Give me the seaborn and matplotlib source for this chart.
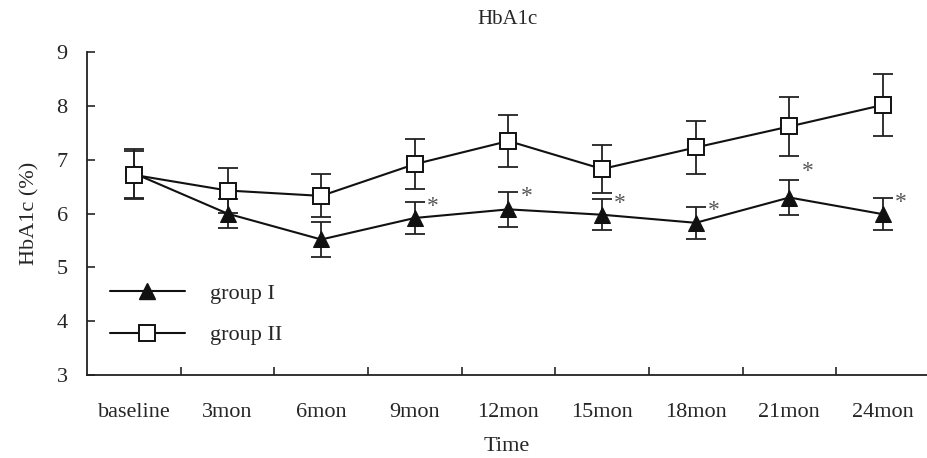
import seaborn as sns
import pandas as pd
import matplotlib.pyplot as plt
from matplotlib.lines import Line2D

# Data
time_points = ["baseline", "3mon", "6mon", "9mon", "12mon", "15mon", "18mon", "21mon", "24mon"]
group1_mean = [6.75, 6.00, 5.52, 5.92, 6.08, 5.98, 5.83, 6.30, 5.99]
group1_sd = [0.45, 0.27, 0.33, 0.30, 0.32, 0.29, 0.30, 0.33, 0.30]
group2_mean = [6.72, 6.43, 6.33, 6.92, 7.35, 6.83, 7.23, 7.62, 8.02]
group2_sd = [0.45, 0.42, 0.40, 0.47, 0.48, 0.45, 0.50, 0.54, 0.57]
star_points = ["9mon", "12mon", "15mon", "18mon", "21mon", "24mon"]

df = pd.DataFrame({
    "Time": time_points * 2,
    "HbA1c": group1_mean + group2_mean,
    "sd": group1_sd + group2_sd,
    "group": ["group I"] * len(time_points) + ["group II"] * len(time_points),
})
df["x"] = df["Time"].map({t: i for i, t in enumerate(time_points)})

sns.set_theme(style="ticks")
plt.rcParams["font.family"] = ["Liberation Serif", "DejaVu Serif"]

fig = plt.figure(figsize=(9.27, 4.58), dpi=100)
ax = fig.add_axes([0.094, 0.181, 0.906, 0.705])

# error bars first, markers on top
for g, sub in df.groupby("group"):
    ax.errorbar(sub["x"], sub["HbA1c"], yerr=sub["sd"], fmt="none", ecolor="#222222",
                elinewidth=1.3, capsize=7.5, capthick=1.3, zorder=2)

sns.lineplot(data=df, x="x", y="HbA1c", hue="group", style="group",
             palette=["#111111", "#111111"], markers={"group I": "^", "group II": "s"},
             dashes=False, linewidth=1.5, markersize=12, ax=ax, zorder=3, legend=False)

# square markers white with black edge
for ln in ax.lines:
    if ln.get_marker() == "s":
        ln.set_markerfacecolor("white")
        ln.set_markeredgecolor("#111111")
        ln.set_markeredgewidth(1.4)
        ln.set_markersize(11)
    elif ln.get_marker() == "^":
        ln.set_markerfacecolor("#111111")
        ln.set_markeredgecolor("#111111")

# significance stars
g1 = df[df["group"] == "group I"].set_index("Time")
for t in star_points:
    i = time_points.index(t)
    y = g1.loc[t, "HbA1c"] + g1.loc[t, "sd"]
    dy = 0.15 if t == "21mon" else -0.08
    ax.text(i + 0.13, y + dy, "*", fontsize=17, color="#555555", ha="left", va="center")

# legend drawn manually like the original
handles = [
    Line2D([], [], color="#111111", lw=1.5, marker="^", markersize=12, markerfacecolor="#111111"),
    Line2D([], [], color="#111111", lw=1.5, marker="s", markersize=11, markerfacecolor="white",
           markeredgecolor="#111111", markeredgewidth=1.4),
]
ax.legend(handles, ["group I", "group II"], loc="lower left", bbox_to_anchor=(0.003, 0.03),
          frameon=False, fontsize=16, handlelength=3.4, handletextpad=1.1, labelspacing=0.95)

ax.set_ylim(3, 9)
ax.set_yticks(range(3, 10))
ax.set_xlim(-0.5, 8.47)
ax.set_xticks([i + 0.5 for i in range(len(time_points) - 1)])
ax.set_xticklabels([])
ax.set_xticks(range(len(time_points)), minor=True)
ax.set_xticklabels(time_points, minor=True)
ax.tick_params(axis="x", which="minor", length=0, pad=20, labelsize=16)
ax.tick_params(axis="x", which="major", direction="in", length=6, width=1.2)
ax.tick_params(axis="y", direction="in", length=6, width=1.2, labelsize=16, pad=14)

ax.set_title("HbA1c", fontsize=15, pad=20)
ax.set_xlabel("Time", fontsize=16, labelpad=11)
ax.set_ylabel("HbA1c (%)", fontsize=16, labelpad=12)

for s in ["top", "right"]:
    ax.spines[s].set_visible(False)
for s in ["left", "bottom"]:
    ax.spines[s].set_linewidth(1.3)
    ax.spines[s].set_color("#222222")

fig.savefig("out.png", dpi=100)
